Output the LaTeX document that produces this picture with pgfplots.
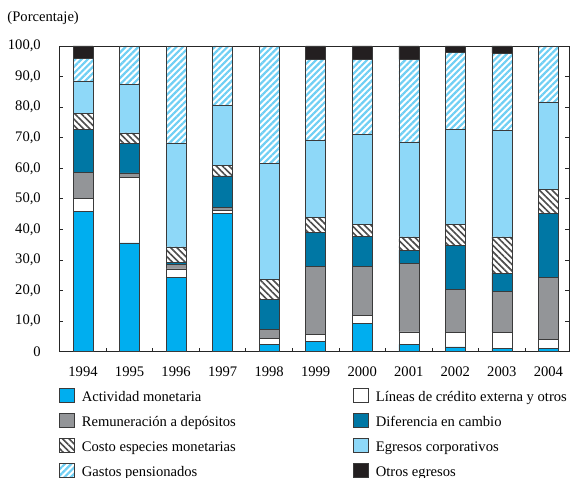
\documentclass[border=0pt]{standalone}
\usepackage{pgfplots}
\pgfplotsset{compat=1.18}
\usepackage{pgfplotstable}
\usepackage{fontspec}
\setmainfont{Liberation Serif}
\usetikzlibrary{patterns,patterns.meta}
\definecolor{cAct}{HTML}{00AEEF}
\definecolor{cRem}{HTML}{939598}
\definecolor{cDif}{HTML}{0077A4}
\definecolor{cEgr}{HTML}{8ED8F8}
\definecolor{cOtr}{HTML}{231F20}
\definecolor{cGas}{HTML}{6FCFF4}
\definecolor{cEdge}{HTML}{3A3A3A}
\pgfplotstableread{
year act lin rem dif cos egr gas otr
1994 45.8 4.3 8.5 14.1 5.2 10.7 7.3 4.1
1995 35.6 21.4 1.5 9.6 3.5 15.8 12.6 0
1996 24.3 2.8 1.4 0.7 5.1 34.0 31.7 0
1997 45.2 1.1 0.8 10.4 3.5 19.5 19.5 0
1998 2.4 2.0 2.9 9.8 6.5 37.9 38.5 0
1999 3.5 2.2 22.3 11.0 4.9 25.2 26.5 4.4
2000 9.3 2.7 16.0 9.8 3.8 29.6 24.4 4.4
2001 2.4 4.1 22.4 4.3 4.4 31.0 27.0 4.4
2002 1.6 4.6 14.2 14.5 6.7 31.1 25.3 2.0
2003 1.0 5.4 13.3 6.0 11.9 34.7 25.4 2.3
2004 1.0 3.0 20.3 20.9 7.9 28.6 18.3 0
}\datatable
\begin{document}
\begin{tikzpicture}
\useasboundingbox (-59.3bp,-126.3bp) rectangle (511.7bp,351.7bp);
\begin{axis}[
  scale only axis,
  width=510bp, height=305.7bp,
  ybar stacked,
  bar width=0.43,
  xmin=1993.49, xmax=2004.45,
  ymin=0, ymax=100,
  font=\fontsize{14.6bp}{16bp}\selectfont,
  axis line style={line width=0.8bp, black!85},
  tick style={line width=0.8bp, black!85},
  tick align=inside,
  major tick length=4bp, minor tick length=4bp,
  xtick={1994,1995,1996,1997,1998,1999,2000,2001,2002,2003,2004},
  xticklabels={1994,1995,1996,1997,1998,1999,2000,2001,2002,2003,2004},
  minor xtick={1994.5,1995.5,1996.5,1997.5,1998.5,1999.5,2000.5,2001.5,2002.5,2003.5},
  every major x tick/.append style={draw=none},
  xtick pos=bottom,
  ytick={0,10,...,100},
  yticklabels={0,{10,0},{20,0},{30,0},{40,0},{50,0},{60,0},{70,0},{80,0},{90,0},{100,0}},
  ytick pos=both,
  yticklabel pos=left,
  yticklabel style={xshift=-15bp},
  xticklabel style={yshift=-11.3bp},
  legend columns=2,
  legend cell align=left,
  legend style={draw=none, fill=none, inner sep=0pt, outer sep=0pt,
    at={(0,0)}, anchor=north west, yshift=-36.25bp,
    row sep=8.2bp, column sep=0pt,
    nodes={inner sep=0pt, text height=10bp, text depth=3.5bp},
    /tikz/every odd column/.append style={column sep=7.3bp}},
  legend image code/.code={\draw[#1] (0bp,-4.25bp) rectangle (14.7bp,9.75bp);},
  every axis plot/.append style={draw=cEdge, line width=0.5bp},
]
\addplot[fill=cAct] table[x=year,y=act]{\datatable};
\addlegendentry{\makebox[271.6bp][l]{Actividad monetaria}}
\addplot[fill=white] table[x=year,y=lin]{\datatable};
\addlegendentry{Líneas de crédito externa y otros}
\addplot[fill=cRem] table[x=year,y=rem]{\datatable};
\addlegendentry{\makebox[271.6bp][l]{Remuneración a depósitos}}
\addplot[fill=cDif] table[x=year,y=dif]{\datatable};
\addlegendentry{Diferencia en cambio}
\addplot[fill=white, postaction={pattern={Lines[angle=-45,distance=4.5bp,line width=1.6bp]}, pattern color=black!70}] table[x=year,y=cos]{\datatable};
\addlegendentry{\makebox[271.6bp][l]{Costo especies monetarias}}
\addplot[fill=cEgr] table[x=year,y=egr]{\datatable};
\addlegendentry{Egresos corporativos}
\addplot[fill=white, postaction={pattern={Lines[angle=45,distance=4.5bp,line width=2.2bp]}, pattern color=cGas}] table[x=year,y=gas]{\datatable};
\addlegendentry{\makebox[271.6bp][l]{Gastos pensionados}}
\addplot[fill=cOtr] table[x=year,y=otr]{\datatable};
\addlegendentry{Otros egresos}
\end{axis}
\node[anchor=west, inner sep=0pt, font=\fontsize{14.6bp}{16bp}\selectfont] at (-52bp,333.4bp) {(Porcentaje)};
\end{tikzpicture}
\end{document}
